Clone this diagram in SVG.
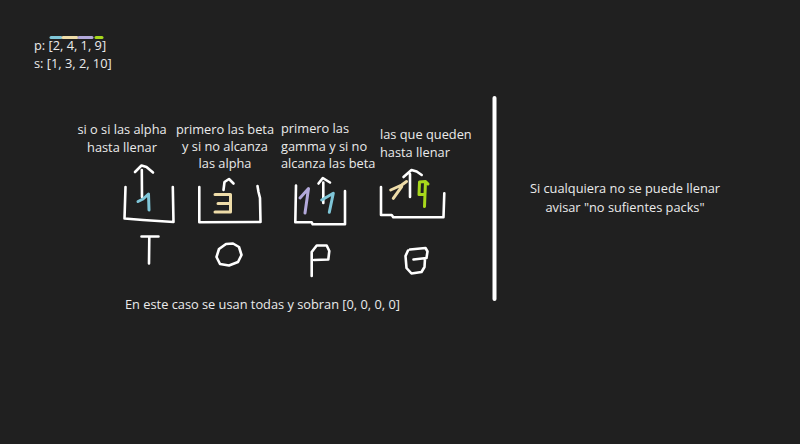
<svg xmlns="http://www.w3.org/2000/svg" width="800" height="444" viewBox="0 0 800 444">
<style>
text{font-family:"Open Sans","Noto Sans","Liberation Sans",sans-serif;font-size:12.8px;fill:#ebebeb}
.c{text-anchor:middle}
.w{fill:none;stroke:#ffffff;stroke-width:2.6;stroke-linecap:round;stroke-linejoin:round}
.cy{fill:none;stroke:#7fc6d8;stroke-width:3;stroke-linecap:round;stroke-linejoin:round}
.be{fill:none;stroke:#eedca8;stroke-width:3;stroke-linecap:round;stroke-linejoin:round}
.la{fill:none;stroke:#b3a9db;stroke-width:3;stroke-linecap:round;stroke-linejoin:round}
.gr{fill:none;stroke:#a8d81c;stroke-width:3;stroke-linecap:round;stroke-linejoin:round}
</style>
<rect width="800" height="444" fill="#202020"/>

<g id="legend">
<line x1="51" y1="37.5" x2="61" y2="37.5" class="cy" stroke-width="2"/>
<line x1="63" y1="37.5" x2="77" y2="37.5" class="be" stroke-width="2"/>
<line x1="79" y1="37.5" x2="92" y2="37.5" class="la" stroke-width="2"/>
<line x1="96" y1="37.5" x2="102" y2="37.5" class="gr" stroke-width="2"/>
<text x="34" y="50">p: [2, 4, 1, 9]</text>
<text x="34" y="68">s: [1, 3, 2, 10]</text>
</g>

<g id="node-alpha">
<text class="c" x="122" y="134">si o si las alpha</text>
<text class="c" x="122" y="152">hasta llenar</text>
<path class="w" d="M125.5,187 L124.5,218.5 L143,220 L173.5,222 L172.8,187"/>
<path class="w" d="M142,197 L141.8,170 M135,172 L141.5,165.5 L146.5,167 L153,172.5"/>
<path class="cy" d="M138,201.5 L143,199 L148.5,194 L149,210"/>
<path class="w" d="M141.5,236.5 L158.5,236.5 M149.3,236.5 L149,263.5"/>
</g>

<g id="node-beta">
<text class="c" x="225" y="134">primero las beta</text>
<text class="c" x="225" y="151">y si no alcanza</text>
<text class="c" x="225" y="168">las alpha</text>
<path class="w" d="M199.3,187 L199.3,222.3 L260.5,222 L260,198 L258.5,192 L257.5,186"/>
<path class="w" d="M223.5,190 L224.5,182 L229,179 L233.5,183.5"/>
<path class="be" d="M215,194.5 L230.5,194.5 L230.5,212 L215,212 M218,203.5 L230,203.5"/>
<path class="w" d="M226,244 L219,249 L216.5,257 L220,264 L229,265.5 L238,262 L241.5,255 L239,247 L233,243.5 Z"/>
</g>

<g id="node-gamma">
<text x="281" y="133">primero las</text>
<text x="281" y="151">gamma y si no</text>
<text x="281" y="168">alcanza las beta</text>
<path class="w" d="M296,185.5 L295.3,222.3 L311.7,222.3 L312.7,224.3 L345,224.3 L345,191"/>
<path class="w" d="M323.3,203 L323.3,182.5 M318.5,183.5 L322.8,178 L330,182.5"/>
<path class="la" d="M300,198 L308.5,188.5 L305,213"/>
<path class="cy" d="M321.7,200 L333.3,193.3 L329.3,212.3"/>
<path class="w" d="M311.7,276 L311.7,252 L316.7,245.5 L326.7,245.5 L329.3,251 L328.3,259.5 L314,260"/>
</g>

<g id="node-delta">
<text x="380" y="139">las que queden</text>
<text x="380" y="157">hasta llenar</text>
<path class="w" d="M381,187 L381,215 L391.7,215 L393.3,217.3 L443.5,217.3 L444.3,193.3"/>
<path class="w" d="M410,197 L410,174 M403.5,177 L411.5,170 L416.7,171.5 L421.7,175"/>
<path class="be" d="M390.7,190 L401.7,185 L406.5,181.5 M393.3,198.3 L401.7,186.7"/>
<path class="gr" d="M428,184 L425.5,181.5 L419.5,182 L419,194.5 L425,194.5 M425.5,181.5 L424.5,206.5"/>
<path class="w" d="M410,249.5 L425.5,248 L427.5,251.5 L426.5,258 L413.5,259.5 M425,258.5 L424.5,267 L421.5,272 L411.5,273.5 L406.5,268 L405.5,256 L408,250.5"/>
</g>

<g id="divider">
<line x1="494.5" y1="98" x2="494.5" y2="299" stroke="#ffffff" stroke-width="4" stroke-linecap="round"/>
</g>

<g id="note">
<text class="c" x="625" y="193">Si cualquiera no se puede llenar</text>
<text class="c" x="625" y="212">avisar "no sufientes packs"</text>
</g>

<g id="summary">
<text x="125" y="309">En este caso se usan todas y sobran [0, 0, 0, 0]</text>
</g>

<g id="connectors"/>
</svg>
